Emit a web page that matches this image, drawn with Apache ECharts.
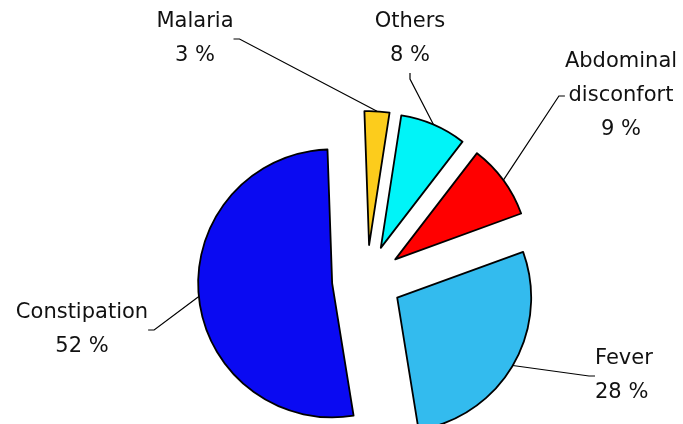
<!DOCTYPE html>
<html>
<head>
<meta charset="utf-8">
<script src="https://cdn.jsdelivr.net/npm/echarts@6/dist/echarts.min.js"></script>
<style>
html,body{margin:0;padding:0;background:#fff;}
#chart{width:683px;height:424px;}
</style>
</head>
<body>
<div id="chart"></div>
<script>
// ---- data ----
const categories = ['Malaria', 'Others', 'Abdominal\ndisconfort', 'Fever', 'Constipation'];
const values = [3, 8, 9, 28, 52];
const colors = ['#FCCC1C', '#00F4F8', '#FF0000', '#33BBEE', '#0A0AF2'];

// label anchor placement (text block centre) per slice
const labelX = [195, 410, 621, 595, 82];
const labelY = [39, 39, 96, 376, 330];
const labelAlign = ['center', 'center', 'center', 'left', 'center'];

const chart = echarts.init(document.getElementById('chart'), null, {renderer: 'canvas'});

const CENTER = [367, 280];
const R = 134;
const EXPLODE = 35;

const sliceData = categories.map((c, i) => ({
  name: c,
  value: values[i],
  selected: true,
  itemStyle: {color: colors[i]},
  select: {itemStyle: {color: colors[i], borderColor: '#000', borderWidth: 1.8}}
}));

const labelData = categories.map((c, i) => ({name: c, value: values[i]}));

chart.setOption({
  backgroundColor: '#ffffff',
  animation: false,
  series: [{
    type: 'pie',
    center: CENTER,
    radius: R,
    startAngle: 92,
    clockwise: true,
    selectedMode: 'multiple',
    selectedOffset: EXPLODE,
    emphasis: {disabled: true},
    itemStyle: {borderColor: '#000', borderWidth: 1.8},
    label: {show: false},
    labelLine: {show: false},
    data: sliceData
  }, {
    type: 'pie',
    center: CENTER,
    radius: R + EXPLODE,
    startAngle: 92,
    clockwise: true,
    silent: true,
    selectedMode: false,
    emphasis: {disabled: true},
    avoidLabelOverlap: false,
    z: 3,
    itemStyle: {color: 'rgba(0,0,0,0)', borderWidth: 0},
    label: {
      show: true,
      position: 'outside',
      formatter: p => p.name + '\n' + p.value + ' %',
      fontFamily: 'DejaVu Sans',
      fontSize: 21,
      lineHeight: 34,
      color: '#111'
    },
    labelLine: {
      show: true,
      length: 10,
      length2: 6,
      minTurnAngle: 90,
      lineStyle: {color: '#000', width: 1.2}
    },
    labelLayout: function (params) {
      const i = params.dataIndex;
      return {
        x: labelX[i],
        y: labelY[i],
        align: labelAlign[i],
        verticalAlign: 'middle'
      };
    },
    data: labelData
  }]
});
</script>
</body>
</html>
